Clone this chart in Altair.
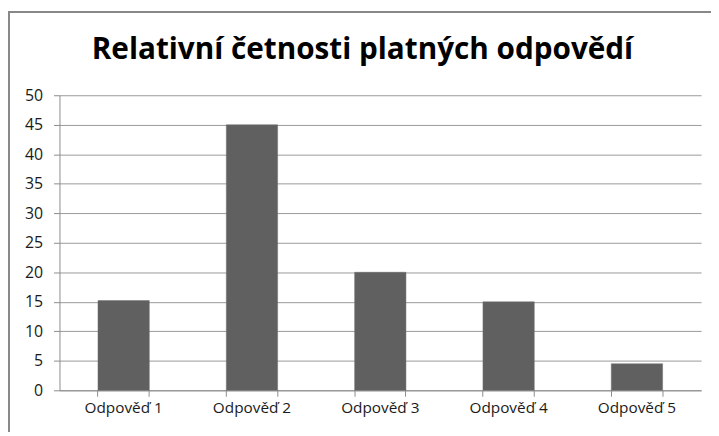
import altair as alt
import pandas as pd

title_text = "Relativní četnosti platných odpovědí"
categories = ["Odpověď 1", "Odpověď 2", "Odpověď 3", "Odpověď 4", "Odpověď 5"]
values = [15.2, 45.0, 20.0, 15.0, 4.5]
y_ticks = [0, 5, 10, 15, 20, 25, 30, 35, 40, 45, 50]

df = pd.DataFrame({"cat": categories, "val": values})
one = pd.DataFrame({"t": [title_text]})

FONT = "Open Sans"
GRAY = "#8c8c8c"

xscale = alt.Scale(domain=categories, paddingInner=0.6, paddingOuter=0.3)

base = alt.Chart(df)

bars = base.mark_bar(color="#606060", stroke="#707070", strokeWidth=0.5).encode(
    x=alt.X("cat:N", scale=xscale, sort=None, title=None,
            axis=alt.Axis(orient="bottom", labelAngle=0, ticks=False, domain=True,
                          domainColor=GRAY, labelFont=FONT, labelFontSize=15.5,
                          labelColor="#1a1a1a", labelPadding=10, grid=False)),
    y=alt.Y("val:Q", scale=alt.Scale(domain=[0, 50], nice=False), title=None,
            axis=alt.Axis(values=y_ticks, grid=True, gridColor="#9a9a9a",
                          domainColor=GRAY, tickColor=GRAY, tickSize=6,
                          labelFont=FONT, labelFontSize=16, labelColor="#1a1a1a",
                          labelPadding=11)),
)

ticks_right = base.mark_bar(opacity=0).encode(
    x=alt.X("cat:N", scale=xscale, sort=None, title=None,
            axis=alt.Axis(orient="bottom", labels=False, ticks=True, tickSize=6,
                          tickColor=GRAY, domain=False, bandPosition=1, grid=False)),
)

ticks_left = base.mark_bar(opacity=0).encode(
    x=alt.X("cat:N", scale=xscale, sort=None, title=None,
            axis=alt.Axis(orient="bottom", labels=False, ticks=True, tickSize=6,
                          tickColor=GRAY, domain=False, bandPosition=0, grid=False)),
)

title_mark = alt.Chart(one).mark_text(
    font=FONT, fontSize=30, fontWeight="bold", color="#000000",
    align="center", baseline="alphabetic"
).encode(text="t:N", x=alt.value(306), y=alt.value(-37))

frame_left = alt.Chart(one).mark_rule(color="#888888", strokeWidth=2).encode(
    x=alt.value(-51), y=alt.value(-84), y2=alt.value(420)
)
frame_top = alt.Chart(one).mark_rule(color="#888888", strokeWidth=2).encode(
    x=alt.value(-52), x2=alt.value(700), y=alt.value(-84)
)

chart = (
    alt.layer(bars, ticks_right, ticks_left, title_mark, frame_left, frame_top)
    .resolve_axis(x="independent")
    .properties(
        width=648,
        height=298,
        padding={"left": 52, "top": 86, "right": 10, "bottom": 40},
        autosize=alt.AutoSizeParams(type="none"),
    )
    .configure_view(stroke=None)
)

chart.save("out.html", embed_options={"renderer": "svg", "actions": False})
